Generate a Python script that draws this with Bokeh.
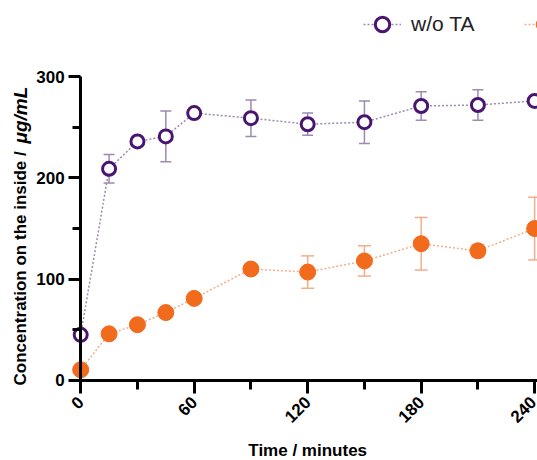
import math
from bokeh.plotting import figure
from bokeh.models import (ColumnDataSource, LinearAxis, Range1d, FixedTicker, Whisker,
                          TeeHead, Legend, LegendItem, Label)
from bokeh.embed import file_html
from bokeh.resources import INLINE

# ---- data ----
time_min = [0, 15, 30, 45, 60, 90, 120, 150, 180, 210, 240]
wo_ta = [45, 209, 236, 241, 264, 259, 253, 255, 271, 272, 276]
wo_ta_err = [3, 14, 5, 25, 3, 18, 11, 21, 14, 15, 5]
w_ta = [10.5, 46, 55, 67, 81, 110, 107, 118, 135, 128, 150]
w_ta_err = [2, 3, 3, 3, 3, 3, 16, 15, 26, 6, 31]
x_ticks = [0, 60, 120, 180, 240]
x_minor = [30, 90, 150, 210]
y_ticks = [0, 100, 200, 300]
y_minor = [50, 150, 250]
labels = ["w/o TA", "w/ TA"]

PURPLE = "#4a1570"
PURPLE_LIGHT = "#9d8ab0"
ORANGE = "#f26a1c"
ORANGE_LIGHT = "#f4ad8c"
FONT = "Liberation Sans"

p = figure(width=537, height=460, x_range=Range1d(-42.4, 241.5), y_range=Range1d(-79.1, 375.2),
           output_backend="svg", toolbar_location=None, x_axis_type=None, y_axis_type=None,
           min_border_left=0, min_border_right=0, min_border_top=0, min_border_bottom=0)
p.outline_line_color = None
p.background_fill_color = "white"
p.border_fill_color = "white"

src1 = ColumnDataSource(dict(t=time_min, y=wo_ta,
                             lo=[a - b for a, b in zip(wo_ta, wo_ta_err)],
                             hi=[a + b for a, b in zip(wo_ta, wo_ta_err)]))
src2 = ColumnDataSource(dict(t=time_min, y=w_ta,
                             lo=[a - b for a, b in zip(w_ta, w_ta_err)],
                             hi=[a + b for a, b in zip(w_ta, w_ta_err)]))

for src, col, cap in ((src1, PURPLE_LIGHT, 11), (src2, ORANGE_LIGHT, 13)):
    w = Whisker(base="t", lower="lo", upper="hi", source=src, line_color=col, line_width=1.5,
                upper_head=TeeHead(size=cap, line_color=col, line_width=1.5),
                lower_head=TeeHead(size=cap, line_color=col, line_width=1.5), level="underlay")
    p.add_layout(w)

l1 = p.line("t", "y", source=src1, line_color=PURPLE_LIGHT, line_width=1.5, line_dash="2 2")
l2 = p.line("t", "y", source=src2, line_color=ORANGE_LIGHT, line_width=1.5, line_dash="2 2")
s2 = p.scatter("t", "y", source=src2, size=16, fill_color=ORANGE, line_color=ORANGE, line_width=1)
s1 = p.scatter("t", "y", source=src1, size=13, fill_color="white", line_color=PURPLE, line_width=3)

def style_axis(ax):
    ax.axis_line_width = 3
    ax.axis_line_color = "black"
    ax.major_tick_line_width = 3
    ax.minor_tick_line_width = 3
    ax.major_tick_in = 0
    ax.minor_tick_in = 0
    ax.major_label_text_font = FONT
    ax.major_label_text_font_style = "bold"
    ax.major_label_text_font_size = "17px"
    ax.major_label_text_color = "black"

yax = LinearAxis(fixed_location=0, bounds=(0, 300),
                 ticker=FixedTicker(ticks=y_ticks, minor_ticks=y_minor))
style_axis(yax)
yax.major_tick_out = 12
yax.minor_tick_out = 8
yax.major_label_standoff = 4
p.add_layout(yax, "left")

xax = LinearAxis(fixed_location=0, bounds=(0, 250),
                 ticker=FixedTicker(ticks=x_ticks, minor_ticks=x_minor))
style_axis(xax)
xax.major_tick_out = 13
xax.minor_tick_out = 9
xax.major_label_standoff = 6
xax.major_label_orientation = math.pi / 4
p.add_layout(xax, "below")

# axis titles
p.add_layout(Label(x=120, y=-69, text="Time / minutes", text_font=FONT, text_font_style="bold",
                   text_font_size="17px", text_align="center", text_baseline="middle",
                   text_color="black"))
p.add_layout(Label(x=-32, y=-5, text="Concentration on the inside / ", angle=math.pi / 2,
                   text_font=FONT, text_font_style="bold", text_font_size="17px",
                   text_align="left", text_baseline="middle", text_color="black"))
p.add_layout(Label(x=-32, y=234, text="μg/mL", angle=math.pi / 2,
                   text_font=FONT, text_font_style="bold italic", text_font_size="19px",
                   text_align="left", text_baseline="middle", text_color="black"))

legend = Legend(items=[LegendItem(label=labels[0], renderers=[l1, s1]),
                       LegendItem(label=labels[1], renderers=[l2, s2])],
                orientation="horizontal", location=(363, 418),
                label_text_font=FONT, label_text_font_size="21px", label_text_color="#222222",
                glyph_width=38, glyph_height=36, label_standoff=10, spacing=50,
                padding=0, margin=0, border_line_color=None, background_fill_alpha=0)
p.add_layout(legend, "center")

open("out.html", "w").write(file_html(p, INLINE))
